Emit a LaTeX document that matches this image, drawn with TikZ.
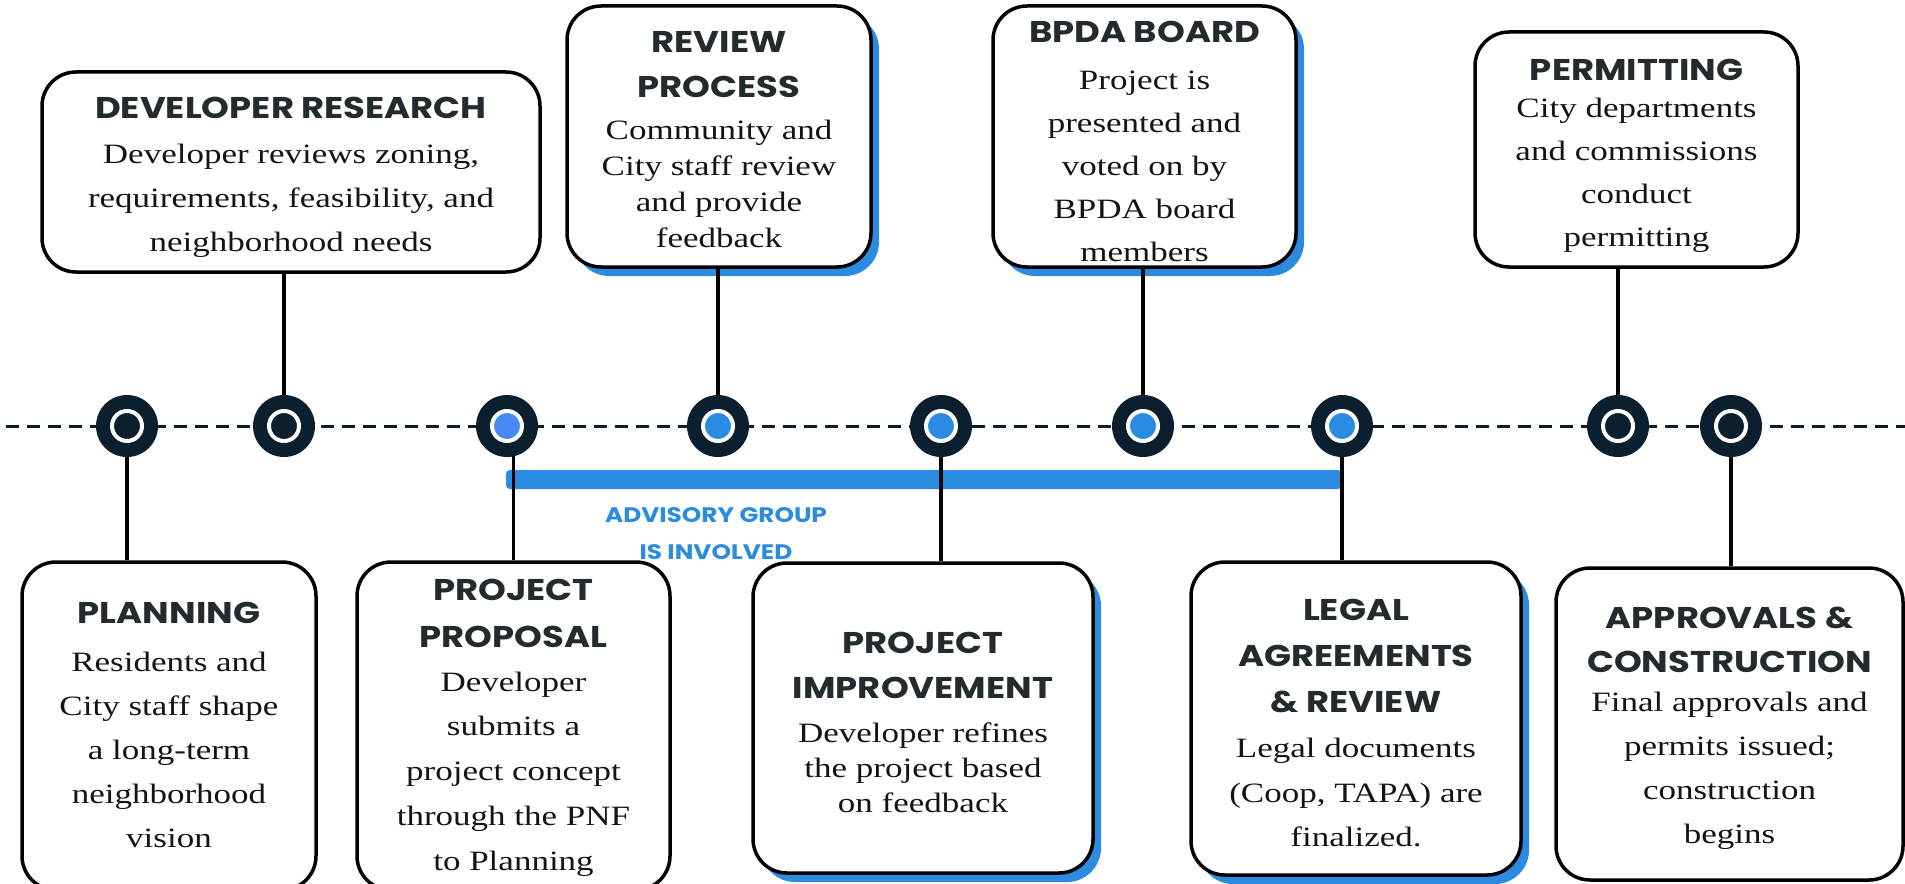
\documentclass[tikz,border=0pt]{standalone}
\usepackage{fontspec}
\setmainfont{Liberation Serif}
\newfontfamily\ttlfont{Poppins}[FakeStretch=1.18]
\newfontfamily\bodyfont{Liberation Serif}[FakeStretch=1.25]
\usetikzlibrary{shadows}
\definecolor{navy}{HTML}{0C1F2F}
\definecolor{barblue}{HTML}{2B8BE1}
\definecolor{lightblue}{HTML}{4A89F3}
\definecolor{ttlcol}{HTML}{242B2E}
\definecolor{bodcol}{HTML}{141414}
\tikzset{
  box/.style={draw=black, line width=1.75pt, rounded corners=17pt, fill=white, inner sep=0pt},
  blueshadow/.style={drop shadow={shadow xshift=4pt, shadow yshift=-4.5pt, fill=barblue, opacity=1}},
  ttl/.style={font=\ttlfont\bfseries\fontsize{15}{#1}\selectfont, text=ttlcol, align=center, inner sep=0pt},
  ttl/.default=22.5,
  bod/.style={font=\bodyfont\fontsize{14}{#1}\selectfont, text=bodcol, align=center, inner sep=0pt},
  bod/.default=22,
  dot/.style={circle, fill=navy, minimum size=31pt, inner sep=0pt},
  conn/.style={draw=black, line width=1.75pt},
  timeline/.style={draw=navy, line width=1.5pt, dash pattern=on 6.5pt off 4pt},
  advis/.style={font=\ttlfont\bfseries\fontsize{10.5}{18.5}\selectfont, text=barblue, align=center, inner sep=0pt}
}
\begin{document}
\begin{tikzpicture}[x=0.5pt, y=-0.5pt]
\useasboundingbox (0,0) rectangle (1905,883);
\fill[white] (0,0) rectangle (1905,883);

% timeline
\coordinate (tl0) at (6,426);
\coordinate (tl1) at (1905,426);
\draw[timeline] (tl0) -- (tl1);

% advisory bar
\node[fill=barblue, rounded corners=2pt, inner sep=0pt, minimum width=418pt, minimum height=9.5pt] (bar) at (924,479.5) {};
\node[advis] (advlabel) at (716,533.5) {ADVISORY GROUP\\IS INVOLVED};

% circles (positions)
\coordinate (p1) at (127,426);
\coordinate (p2) at (284,426);
\coordinate (p3) at (507,426);
\coordinate (p4) at (718,426);
\coordinate (p5) at (941,426);
\coordinate (p6) at (1143,426);
\coordinate (p7) at (1342,426);
\coordinate (p8) at (1618,426);
\coordinate (p9) at (1731,426);

% top boxes
\node[box, minimum width=249pt, minimum height=100pt] (b1) at (291,172) {};
\node[ttl] (t1) at (291,108) {DEVELOPER RESEARCH};
\node[bod] (d1) at (291,201) {Developer reviews zoning,\\requirements, feasibility, and\\neighborhood needs};

\node[box, blueshadow, minimum width=152pt, minimum height=130.5pt] (b2) at (719,136.5) {};
\node[ttl] (t2) at (719,64.5) {REVIEW\\PROCESS};
\node[bod=18] (d2) at (719,184) {Community and\\City staff review\\and provide\\feedback};

\node[box, blueshadow, minimum width=151.5pt, minimum height=130.5pt] (b3) at (1144.5,136.5) {};
\node[ttl] (t3) at (1144.5,32) {BPDA BOARD};
\node[bod=21.5] (d3) at (1144.5,166) {Project is\\presented and\\voted on by\\BPDA board\\members};

\node[box, minimum width=161.5pt, minimum height=117.5pt] (b4) at (1636.5,149.5) {};
\node[ttl] (t4) at (1636.5,70) {PERMITTING};
\node[bod=21.5] (d4) at (1636.5,175) {City departments\\and commissions\\conduct\\permitting};

% bottom boxes
\node[box, minimum width=147pt, minimum height=164pt] (b5) at (169,726) {};
\node[ttl] (t5) at (169,613) {PLANNING};
\node[bod] (d5) at (169,750) {Residents and\\City staff shape\\a long-term\\neighborhood\\vision};

\node[box, minimum width=156.5pt, minimum height=164pt] (b6) at (513.5,726) {};
\node[ttl=23.5] (t6) at (513.5,613.5) {PROJECT\\PROPOSAL};
\node[bod=22.4] (d6) at (513.5,774) {Developer\\submits a\\project concept\\through the PNF\\to Planning};

\node[box, blueshadow, minimum width=170pt, minimum height=155pt] (b7) at (923,718) {};
\node[ttl] (t7) at (923,665.5) {PROJECT\\IMPROVEMENT};
\node[bod=17.5] (d7) at (923,768) {Developer refines\\the project based\\on feedback};

\node[box, blueshadow, minimum width=165pt, minimum height=156.5pt] (b8) at (1356,718.5) {};
\node[ttl=23] (t8) at (1356,656) {LEGAL\\AGREEMENTS\\\& REVIEW};
\node[bod=22.25] (d8) at (1356,792.5) {Legal documents\\(Coop, TAPA) are\\finalized.};

\node[box, minimum width=173.5pt, minimum height=156pt] (b9) at (1729.5,724) {};
\node[ttl=22] (t9) at (1729.5,640) {APPROVALS \&\\CONSTRUCTION};
\node[bod] (d9) at (1729.5,771) {Final approvals and\\permits issued;\\construction\\begins};

% connectors
\draw[conn] (p1 |- b5.north) -- (p1);
\draw[conn] (p2 |- b1.south) -- (p2);
\draw[conn] (b6.north) -- (b6.north |- p3);
\draw[conn] (p4 |- b2.south) -- (p4);
\draw[conn] (p5 |- b7.north) -- (p5);
\draw[conn] (p6 |- b3.south) -- (p6);
\draw[conn] (p7 |- b8.north) -- (p7);
\draw[conn] (p8 |- b4.south) -- (p8);
\draw[conn] (p9 |- b9.north) -- (p9);

% circles
\foreach \i/\c in {1/navy,2/navy,3/lightblue,4/barblue,5/barblue,6/barblue,7/barblue,8/navy,9/navy}{
  \node[dot] (c\i) at (p\i) {};
  \draw[white, line width=2pt, fill=\c] (c\i.center) circle (7.5pt);
}
\end{tikzpicture}
\end{document}
